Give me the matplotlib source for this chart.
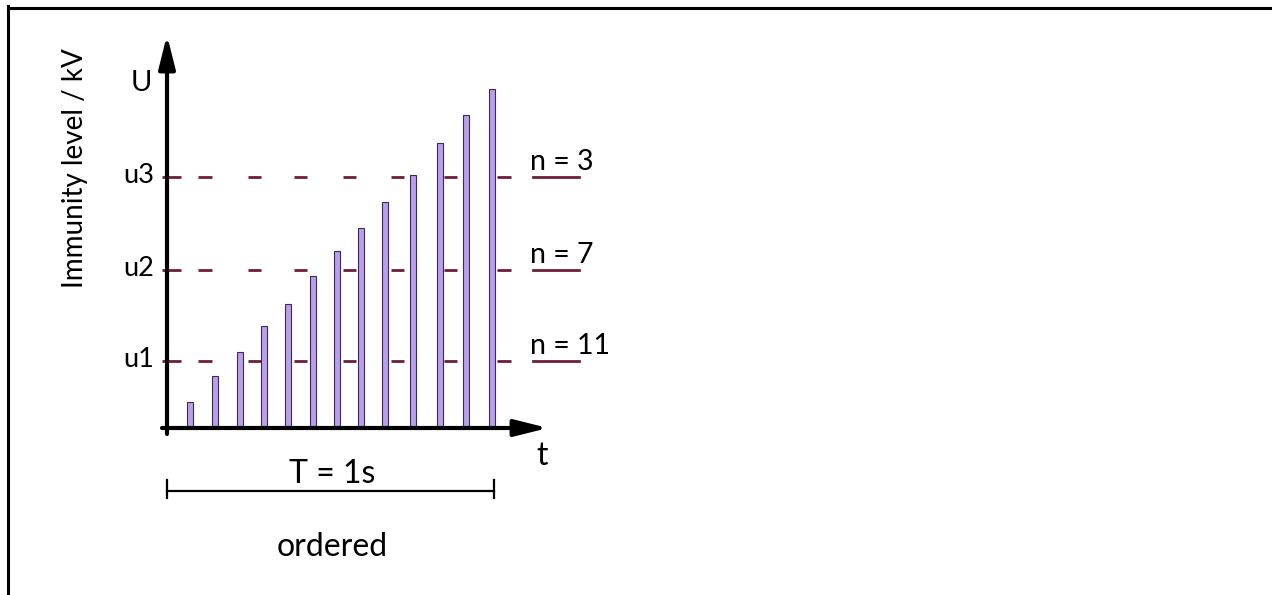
import matplotlib
matplotlib.use("Agg")
import matplotlib.pyplot as plt
from matplotlib.lines import Line2D

plt.rcParams["font.family"] = ["Lato", "DejaVu Sans"]
plt.rcParams["lines.scale_dashes"] = False

# pulse times (s) and peak levels (kV, arbitrary scale)
pulse_times = [0.071, 0.147, 0.223, 0.298, 0.371, 0.447, 0.519, 0.594, 0.667, 0.752, 0.834, 0.915, 0.994]
pulse_levels = [0.26, 0.52, 0.76, 1.02, 1.24, 1.52, 1.77, 2.00, 2.26, 2.53, 2.85, 3.13, 3.39]
level_names = ["u1", "u2", "u3"]
level_values = [0.67, 1.58, 2.51]
level_counts = ["n = 11", "n = 7", "n = 3"]
period_s = 1.0

# layout: origin in pixels and pixels per unit
W, H = 1272, 595
X0, Y0 = 167, 428
SX, SY = 327.0, 100.0


def px_x(p):
    return (p - X0) / SX


def px_y(p):
    return (Y0 - p) / SY


fig = plt.figure(figsize=(W / 100, H / 100), dpi=100)
ax = fig.add_axes([0, 0, 1, 1])
ax.set_xlim(px_x(0), px_x(W))
ax.set_ylim(px_y(H), px_y(0))
ax.axis("off")

# frame (only top and left edges show in the reference)
fig.add_artist(Line2D([8 / W, 8 / W], [0, 1 - 6 / H], color="black", lw=2.2, transform=fig.transFigure))
fig.add_artist(Line2D([8 / W, 1], [1 - 7.5 / H, 1 - 7.5 / H], color="black", lw=2.2, transform=fig.transFigure))

# pulses
ax.bar(pulse_times, pulse_levels, width=6 / SX, color="#b8a0ea", edgecolor="#3a2a55", linewidth=0.8, zorder=3)

# threshold lines
dash_px = [19, 17, 14, 36, 13, 33, 13, 36, 13, 35, 13, 40, 13, 40, 14, 200]
dash_pt = [d * 0.72 for d in dash_px]
line_col = "#6e1d3a"
for name, val, cnt in zip(level_names, level_values, level_counts):
    ax.plot([px_x(162), px_x(512)], [val, val], color=line_col, lw=2.0,
            linestyle=(0, dash_pt), solid_capstyle="butt", zorder=2)
    ax.plot([px_x(533), px_x(579)], [val, val], color=line_col, lw=2.0, zorder=2)
    ax.text(px_x(154), val - 6 / SY, name, ha="right", va="baseline", fontsize=19.5)
    ax.text(px_x(530), val + 7 / SY, cnt, ha="left", va="baseline", fontsize=20.5)

# axes with arrows
arrow = dict(arrowstyle="-|>,head_length=2.0,head_width=0.5", lw=3, color="black",
             shrinkA=0, shrinkB=0, mutation_scale=10)
ax.annotate("", xy=(0, px_y(35)), xytext=(0, px_y(434)), arrowprops=arrow, zorder=4)
ax.annotate("", xy=(px_x(548), 0), xytext=(px_x(162), 0), arrowprops=arrow, zorder=4)

ax.text(px_x(141), px_y(83), "U", ha="center", va="center", fontsize=21)
ax.text(px_x(542), px_y(465), "t", ha="center", va="baseline", fontsize=23)
ax.text(px_x(75), px_y(168), "Immunity level / kV", rotation=90, ha="center", va="center", fontsize=20)

# period bracket
yb = px_y(491)
ax.plot([0, period_s], [yb, yb], color="black", lw=1.6)
for xe in [0, period_s]:
    ax.plot([xe, xe], [px_y(480), px_y(498)], color="black", lw=1.6)
ax.text(period_s / 2 + px_x(332) - px_x(330.5), px_y(483), "T = 1s", ha="center", va="baseline", fontsize=23)
ax.text(period_s / 2 + px_x(332) - px_x(330.5), px_y(556), "ordered", ha="center", va="baseline", fontsize=23)

fig.savefig("out.png", dpi=100)
